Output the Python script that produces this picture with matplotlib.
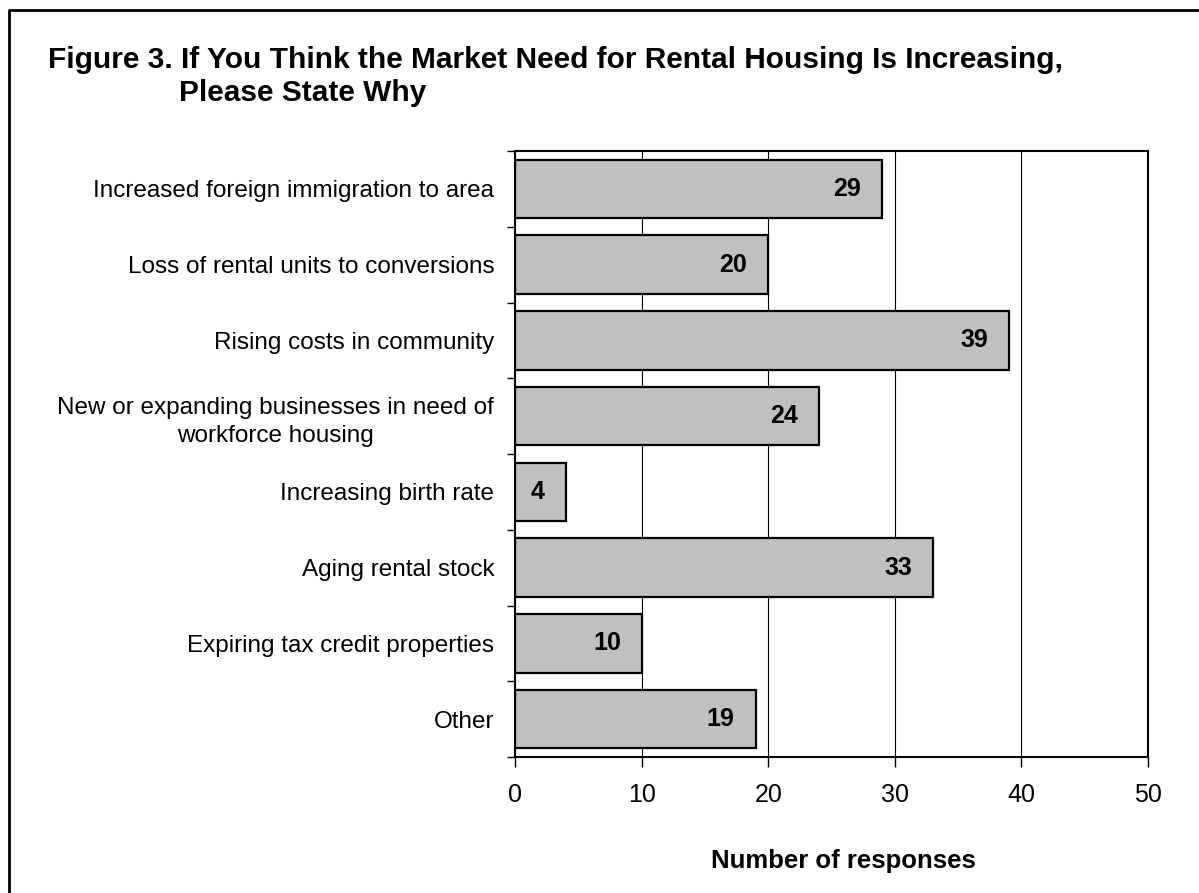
import matplotlib.pyplot as plt
from matplotlib.lines import Line2D

plt.rcParams["font.family"] = ["Liberation Sans", "DejaVu Sans"]

# survey answers, top to bottom
reasons = [
    "Increased foreign immigration to area",
    "Loss of rental units to conversions",
    "Rising costs in community",
    "New or expanding businesses in need of\nworkforce housing",
    "Increasing birth rate",
    "Aging rental stock",
    "Expiring tax credit properties",
    "Other",
]
responses = [29, 20, 39, 24, 4, 33, 10, 19]
x_ticks = [0, 10, 20, 30, 40, 50]

W, H = 1199, 893
fig = plt.figure(figsize=(W / 100, H / 100), dpi=100)
ax = fig.add_axes([515 / W, 1 - 757 / H, (1148 - 515) / W, (757 - 151) / H])

pos = list(range(len(reasons)))

# vertical gridlines behind the bars
ax.set_axisbelow(True)
ax.grid(axis="x", color="black", linewidth=0.8)

ax.barh(pos, responses, height=0.77, color="#C0C0C0",
        edgecolor="black", linewidth=1.6)

# value labels just inside the end of each bar
for y, v in zip(pos, responses):
    ax.annotate(str(v), xy=(v, y), xytext=(-15, 0), textcoords="offset points",
                ha="right", va="center", fontsize=18, fontweight="bold")

ax.set_xlim(0, 50)
ax.set_ylim(len(reasons) - 0.5, -0.5)
ax.set_xticks(x_ticks)
ax.set_xticklabels([str(t) for t in x_ticks], fontsize=18)
ax.tick_params(axis="x", direction="out", length=7, width=1, pad=12)

# labels centred on each bar, tick marks between categories
ax.set_yticks(pos)
ax.set_yticklabels(reasons, fontsize=17.5, ha="right", multialignment="center",
                   linespacing=1.4)
ax.tick_params(axis="y", length=0, pad=15)
ax.set_yticks([p + 0.5 for p in range(-1, len(reasons))], minor=True)
ax.tick_params(axis="y", which="minor", direction="out", length=6, width=1)

for sp in ax.spines.values():
    sp.set_linewidth(1.5)
    sp.set_color("black")

ax.set_xlabel("Number of responses", fontsize=18.5, fontweight="bold")
ax.xaxis.set_label_coords((843 - 515) / (1148 - 515), 1 - (849 - 151) / (757 - 151))

fig.text(48 / W, 1 - 68 / H,
         "Figure 3. If You Think the Market Need for Rental Housing Is Increasing,",
         fontsize=21.5, fontweight="bold", va="baseline", ha="left")
fig.text(179 / W, 1 - 101 / H, "Please State Why",
         fontsize=21.5, fontweight="bold", va="baseline", ha="left")

# frame along the top and left of the page
fig.add_artist(Line2D([9 / W, 9 / W, 1], [0, 1 - 10 / H, 1 - 10 / H],
                      transform=fig.transFigure, color="black", linewidth=2))

fig.savefig("out.png", dpi=100)
